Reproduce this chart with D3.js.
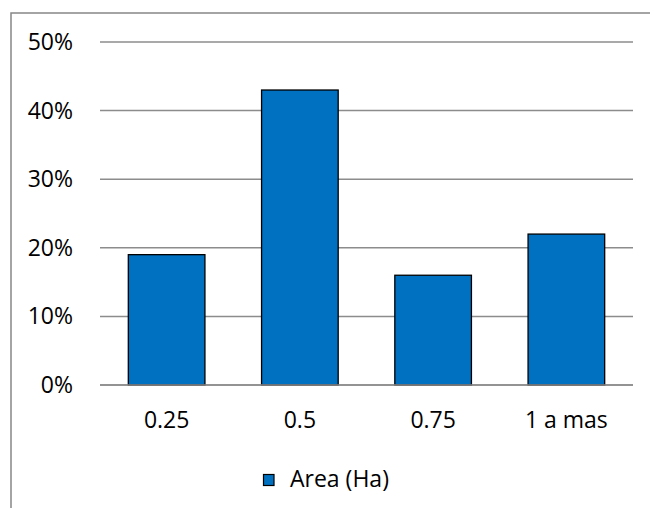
<!DOCTYPE html>
<html>
<head>
<meta charset="utf-8">
<script src="https://cdn.jsdelivr.net/npm/d3@7"></script>
<style>
  html, body { margin: 0; padding: 0; background: #fff; }
  svg { display: block; }
  text { font-family: "Open Sans", sans-serif; fill: #000; }
</style>
</head>
<body>
<script>
const categories = ["0.25", "0.5", "0.75", "1 a mas"];
const values = [0.19, 0.43, 0.16, 0.22];
const yTicks = [0, 0.1, 0.2, 0.3, 0.4, 0.5];
const seriesName = "Area (Ha)";

const W = 650, H = 508;
const svg = d3.select("body").append("svg").attr("width", W).attr("height", H);

// chart border (extends beyond right/bottom edge)
svg.append("rect")
  .attr("x", 11).attr("y", 13)
  .attr("width", 660).attr("height", 520)
  .attr("fill", "none").attr("stroke", "#878787").attr("stroke-width", 1.5);

const x = d3.scaleBand().domain(categories).range([100, 633])
  .paddingInner(0.425).paddingOuter(0.2125);
const y = d3.scaleLinear().domain([0, 0.5]).range([385, 42]);

// gridlines
svg.append("g").selectAll("line").data(yTicks).join("line")
  .attr("x1", 100).attr("x2", 633)
  .attr("y1", d => y(d)).attr("y2", d => y(d))
  .attr("stroke", "#8c8c8c").attr("stroke-width", 1.5);

// y labels
svg.append("g").selectAll("text").data(yTicks).join("text")
  .attr("x", 73).attr("y", d => y(d) + 8)
  .attr("text-anchor", "end")
  .attr("font-size", 23)
  .text(d => d3.format(".0%")(d));

// bars
svg.append("g").selectAll("rect").data(values).join("rect")
  .attr("x", (d, i) => x(categories[i]))
  .attr("width", x.bandwidth())
  .attr("y", d => y(d))
  .attr("height", d => y(0) - y(d))
  .attr("fill", "#0070C0")
  .attr("stroke", "#000").attr("stroke-width", 1.3);

// axis line on top of bars
svg.append("line")
  .attr("x1", 100).attr("x2", 633).attr("y1", y(0)).attr("y2", y(0))
  .attr("stroke", "#8c8c8c").attr("stroke-width", 1.5);

// x labels
svg.append("g").selectAll("text").data(categories).join("text")
  .attr("x", d => x(d) + x.bandwidth() / 2)
  .attr("y", 428)
  .attr("text-anchor", "middle")
  .attr("font-size", 23)
  .text(d => d);

// legend
const lg = svg.append("g");
lg.append("rect").attr("x", 263.5).attr("y", 474.5).attr("width", 10.5).attr("height", 11)
  .attr("fill", "#0070C0").attr("stroke", "#000").attr("stroke-width", 1.2);
lg.append("text").attr("x", 290).attr("y", 487).attr("font-size", 23).text(seriesName);
</script>
</body>
</html>
